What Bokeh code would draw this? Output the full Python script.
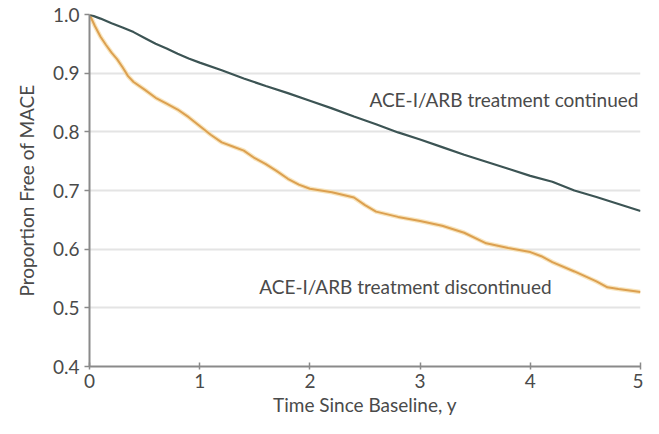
from bokeh.plotting import figure
from bokeh.models import Range1d, FixedTicker, Label
from bokeh.embed import file_html
from bokeh.resources import INLINE

# --- data ---
t_cont = [0, 0.1, 0.2, 0.3, 0.4, 0.5, 0.6, 0.7, 0.8, 0.9, 1.0, 1.2, 1.4, 1.6, 1.8, 2.0,
          2.2, 2.4, 2.6, 2.8, 3.0, 3.2, 3.4, 3.6, 3.8, 4.0, 4.2, 4.4, 4.6, 4.8, 5.0]
s_cont = [1.0, 0.993, 0.985, 0.978, 0.970, 0.960, 0.950, 0.942, 0.933, 0.925, 0.918,
          0.905, 0.891, 0.878, 0.866, 0.853, 0.840, 0.826, 0.813, 0.799, 0.787, 0.774,
          0.761, 0.749, 0.737, 0.725, 0.715, 0.700, 0.689, 0.677, 0.665]

t_disc = [0, 0.05, 0.1, 0.15, 0.2, 0.25, 0.3, 0.35, 0.4, 0.5, 0.6, 0.7, 0.8, 0.9, 1.0,
          1.1, 1.2, 1.3, 1.4, 1.5, 1.6, 1.7, 1.8, 1.9, 2.0, 2.2, 2.4, 2.5, 2.6, 2.8, 3.0,
          3.2, 3.4, 3.6, 3.8, 4.0, 4.1, 4.2, 4.4, 4.6, 4.7, 4.8, 5.0]
s_disc = [1.0, 0.980, 0.962, 0.948, 0.935, 0.924, 0.910, 0.895, 0.885, 0.872, 0.858,
          0.848, 0.838, 0.825, 0.810, 0.795, 0.782, 0.775, 0.768, 0.755, 0.745, 0.733,
          0.720, 0.710, 0.703, 0.697, 0.688, 0.675, 0.664, 0.655, 0.648, 0.640, 0.628,
          0.610, 0.602, 0.595, 0.588, 0.578, 0.562, 0.545, 0.535, 0.532, 0.527]

x_ticks = [0, 1, 2, 3, 4, 5]
y_ticks = [0.4, 0.5, 0.6, 0.7, 0.8, 0.9, 1.0]
label_cont = "ACE-I/ARB treatment continued"
label_disc = "ACE-I/ARB treatment discontinued"

FONT = "Lato"
TXT = "#4a4a4a"

p = figure(width=643, height=418, output_backend="svg", toolbar_location=None,
           x_range=Range1d(0, 5), y_range=Range1d(0.4, 1.0),
           min_border_left=89, min_border_right=3, min_border_top=14, min_border_bottom=50)
p.outline_line_color = None
p.background_fill_color = "white"

p.xgrid.grid_line_color = None
p.ygrid.grid_line_color = "#e4e4e4"
p.ygrid.grid_line_width = 2

p.xaxis.ticker = FixedTicker(ticks=x_ticks)
p.yaxis.ticker = FixedTicker(ticks=y_ticks)
p.yaxis.major_label_overrides = {v: f"{v:.1f}" for v in y_ticks}
p.xaxis.axis_label = "Time Since Baseline, y"
p.yaxis.axis_label = "Proportion Free of MACE"
for ax in (p.xaxis, p.yaxis):
    ax.axis_line_color = "#8a8a8a"
    ax.axis_line_width = 2
    ax.major_tick_line_color = "#8a8a8a"
    ax.major_tick_line_width = 1.5
    ax.minor_tick_line_color = None
    ax.major_label_text_font = FONT
    ax.major_label_text_font_size = "19px"
    ax.major_label_text_color = TXT
    ax.axis_label_text_font = FONT
    ax.axis_label_text_font_size = "19px"
    ax.axis_label_text_font_style = "normal"
    ax.axis_label_text_color = TXT
p.xaxis.major_tick_in = 4
p.xaxis.major_tick_out = 3
p.yaxis.major_tick_in = 0
p.yaxis.major_tick_out = 5
p.xaxis.major_label_standoff = 4
p.yaxis.major_label_standoff = 5
p.xaxis.axis_label_standoff = 2
p.yaxis.axis_label_standoff = 12

# curves
p.line(t_disc, s_disc, line_color="#f6dfae", line_width=4.5, line_alpha=0.8)
p.line(t_disc, s_disc, line_color="#dca050", line_width=2)
p.line(t_cont, s_cont, line_color="#3c5454", line_width=2.2)

p.add_layout(Label(x=2.54, y=0.855, text=label_cont, text_font=FONT, text_font_size="19px",
                   text_color=TXT, text_baseline="middle", text_align="left"))
p.add_layout(Label(x=1.54, y=0.537, text=label_disc, text_font=FONT, text_font_size="19px",
                   text_color=TXT, text_baseline="middle", text_align="left"))

open("out.html", "w").write(file_html(p, INLINE))
